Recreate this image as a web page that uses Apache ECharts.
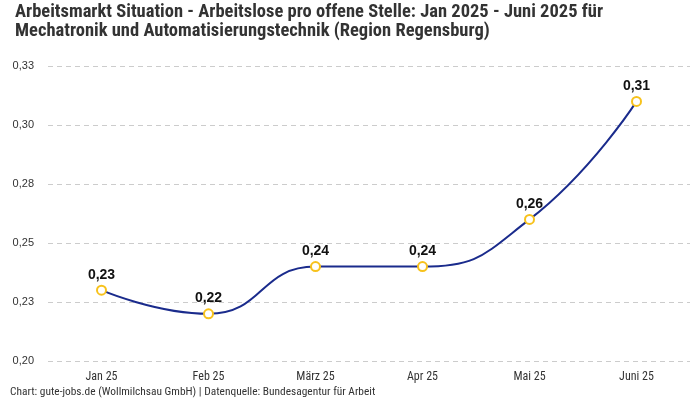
<!DOCTYPE html>
<html><head><meta charset="utf-8">
<script src="https://cdn.jsdelivr.net/npm/echarts@6/dist/echarts.min.js"></script>
<style>html,body{margin:0;padding:0;background:#fff}#c{width:700px;height:400px}</style>
</head><body><div id="c"></div>
<script>
const categories = ['Jan 25','Feb 25','März 25','Apr 25','Mai 25','Juni 25'];
const values = [0.23, 0.22, 0.24, 0.24, 0.26, 0.31];
const fmt = v => v.toFixed(2).replace('.', ',');
const condensed = '"Roboto Condensed", "Liberation Sans Narrow", "DejaVu Sans Condensed", sans-serif';
const chart = echarts.init(document.getElementById('c'));
chart.setOption({
  animation: false,
  title: {
    text: 'Arbeitsmarkt Situation - Arbeitslose pro offene Stelle: Jan 2025 - Juni 2025 für\nMechatronik und Automatisierungstechnik (Region Regensburg)',
    left: 10, top: -2,
    textStyle: { fontFamily: condensed, fontSize: 18.5, fontWeight: 'bold', color: '#333', lineHeight: 19 }
  },
  graphic: [{
    type: 'text', left: 10, top: 387,
    style: { text: 'Chart: gute-jobs.de (Wollmilchsau GmbH) | Datenquelle: Bundesagentur für Arbeit',
      fontFamily: condensed, fontSize: 11.4, fill: '#333' }
  }],
  grid: { left: 48, right: 10, top: 66, bottom: 39 },
  xAxis: {
    type: 'category', data: categories, boundaryGap: true,
    axisLine: { show: false }, axisTick: { show: false },
    axisLabel: { color: '#333', fontFamily: condensed, fontSize: 12, margin: 10 }
  },
  yAxis: {
    type: 'value', min: 0.2, max: 0.325, interval: 0.025,
    axisLabel: { formatter: fmt, color: '#333', fontSize: 11, fontFamily: 'Liberation Sans, Arial, sans-serif', margin: 14 },
    splitLine: { lineStyle: { type: [5, 4], color: '#ccc' } }
  },
  series: [{
    type: 'line', data: values, smooth: true,
    lineStyle: { color: '#1a2b8c', width: 2 },
    itemStyle: { color: '#fff', borderColor: '#f7c21c', borderWidth: 2 },
    symbol: 'circle', symbolSize: 9,
    label: { show: true, position: 'top', formatter: p => fmt(p.value), fontSize: 14, fontWeight: 'bold', color: '#111', distance: 3, fontFamily: 'Liberation Sans, Arial, sans-serif' }
  }]
});
</script></body></html>
